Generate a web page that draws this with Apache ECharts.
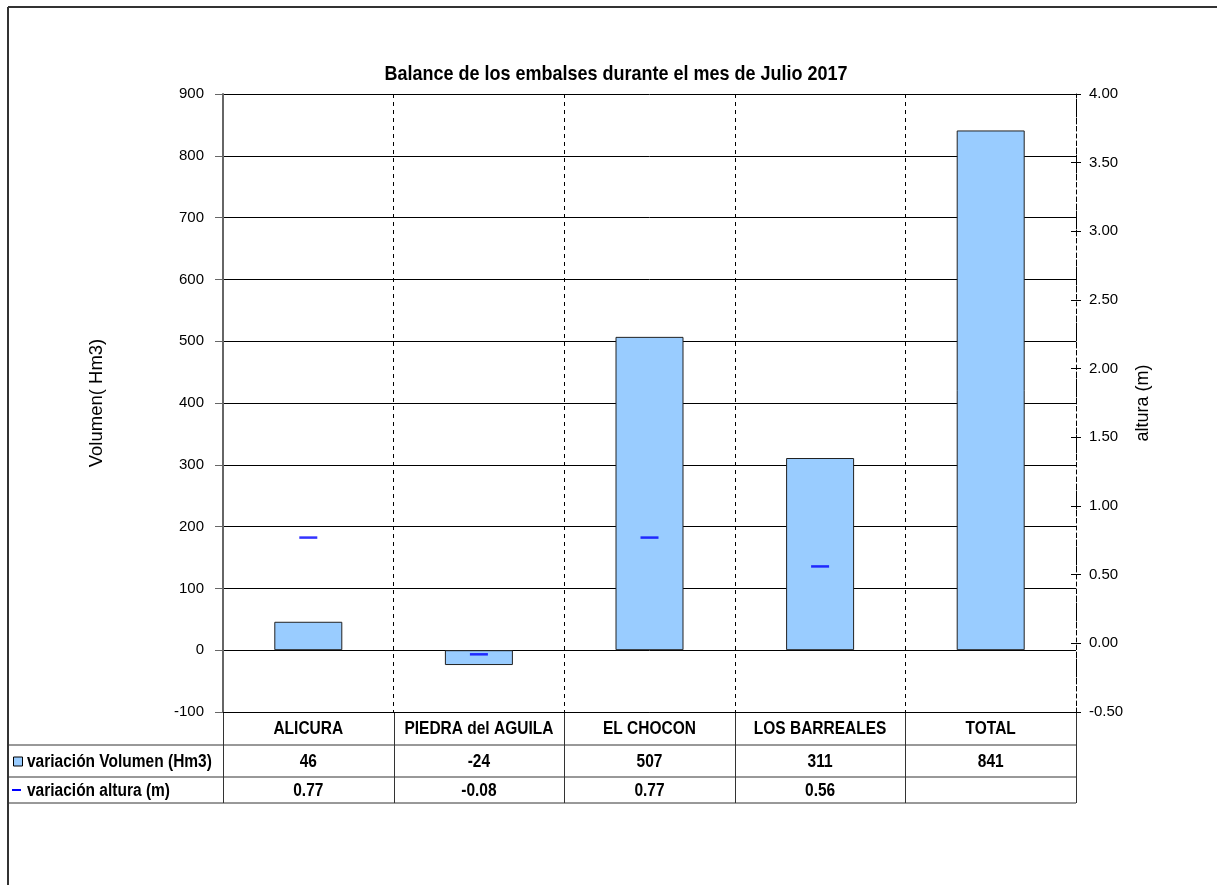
<!DOCTYPE html>
<html>
<head>
<meta charset="utf-8">
<script src="https://cdn.jsdelivr.net/npm/echarts@6/dist/echarts.min.js"></script>
<style>
  html, body { margin: 0; padding: 0; background: #fff; }
  #chart { width: 1217px; height: 885px; }
</style>
</head>
<body>
<div id="chart"></div>
<script>
// Reservoir balance, July 2017
const categories = ['ALICURA', 'PIEDRA del AGUILA', 'EL CHOCON', 'LOS BARREALES', 'TOTAL'];
const volumen = [46, -24, 507, 311, 841];          // variación Volumen (Hm3)
const altura = [0.77, -0.08, 0.77, 0.56, null];    // variación altura (m)
const volumenLabel = 'variación Volumen (Hm3)';
const alturaLabel = 'variación altura (m)';

const FONT = '"Liberation Sans", Arial, sans-serif';
const GRID = { left: 223, right: 1076, top: 94, bottom: 712 };
const W = 1217, H = 885;
const TALL = 1.15;   // text is drawn slightly elongated vertically

const chart = echarts.init(document.getElementById('chart'), null, { renderer: 'canvas' });

// ---- data table under the plot ----
function buildTable() {
  const n = categories.length;
  const cw = (GRID.right - GRID.left) / n;
  const tableLeft = 8;
  const rows = [GRID.bottom, 745, 777, 803];
  const lineStyle = { stroke: '#333', lineWidth: 1 };
  const els = [];
  // horizontal rules
  for (let r = 1; r < rows.length; r++) {
    els.push({ type: 'line', shape: { x1: tableLeft, y1: rows[r], x2: GRID.right, y2: rows[r] }, style: lineStyle, silent: true });
  }
  // vertical rules
  for (let i = 0; i <= n; i++) {
    const x = Math.round(GRID.left + i * cw) + 0.5;
    els.push({ type: 'line', shape: { x1: x, y1: rows[0], x2: x, y2: rows[3] }, style: lineStyle, silent: true });
  }
  const cellText = (x, y, t, align) => ({
    type: 'text', x, y, scaleY: TALL, silent: true,
    style: { text: t, font: 'bold 15.5px ' + FONT, fill: '#000', align: align || 'center', verticalAlign: 'middle' }
  });
  const mid = r => (rows[r] + rows[r + 1]) / 2 + 1;
  categories.forEach((c, i) => {
    const cx = GRID.left + (i + 0.5) * cw;
    els.push(cellText(cx, mid(0), c));
    els.push(cellText(cx, mid(1), String(volumen[i])));
    els.push(cellText(cx, mid(2), altura[i] == null ? '' : altura[i].toFixed(2)));
  });
  // legend keys in the first column
  els.push({ type: 'rect', shape: { x: 13.5, y: mid(1) - 5, width: 9, height: 9 },
    style: { fill: '#99ccff', stroke: '#000', lineWidth: 1 }, silent: true });
  els.push(cellText(27, mid(1), volumenLabel, 'left'));
  els.push({ type: 'line', shape: { x1: 12, y1: mid(2) - 1, x2: 21, y2: mid(2) - 1 },
    style: { stroke: '#0000ff', lineWidth: 2 }, silent: true });
  els.push(cellText(27, mid(2), alturaLabel, 'left'));
  // title
  els.push({ type: 'text', x: 616, y: 74, scaleY: TALL, silent: true,
    style: { text: 'Balance de los embalses durante el mes de Julio 2017', font: 'bold 18px ' + FONT,
      fill: '#000', align: 'center', verticalAlign: 'middle' } });
  // outer frame
  els.push({ type: 'line', shape: { x1: 8, y1: 7, x2: W, y2: 7 }, style: { stroke: '#333', lineWidth: 2 }, silent: true });
  els.push({ type: 'line', shape: { x1: 8, y1: 7, x2: 8, y2: H }, style: { stroke: '#333', lineWidth: 2 }, silent: true });
  return els;
}

const axisLabelFont = { fontFamily: FONT, fontSize: 15, color: '#000' };

chart.setOption({
  animation: false,
  backgroundColor: '#fff',
  grid: { left: GRID.left, right: W - GRID.right, top: GRID.top, bottom: H - GRID.bottom, containLabel: false },
  xAxis: {
    type: 'category',
    data: categories,
    boundaryGap: true,
    axisLine: { onZero: false, lineStyle: { color: '#000', width: 1 } },
    axisTick: { show: false },
    axisLabel: { show: false },
    splitLine: { show: true, interval: 0, lineStyle: { color: '#000', type: [4, 4], width: 1 } }
  },
  yAxis: [
    {
      type: 'value', position: 'left',
      min: -100, max: 900, interval: 100,
      name: 'Volumen( Hm3)', nameLocation: 'middle', nameRotate: 90, nameGap: 117,
      nameTextStyle: { fontFamily: FONT, fontSize: 18.5, color: '#000' },
      axisLine: { show: true, lineStyle: { color: '#666', width: 2 } },
      axisTick: { show: true, length: 8, lineStyle: { color: '#666', width: 1 } },
      axisLabel: Object.assign({ margin: 19 }, axisLabelFont),
      splitLine: { show: true, lineStyle: { color: '#000', width: 1 } }
    },
    {
      type: 'value', position: 'right',
      min: -0.5, max: 4, interval: 0.5,
      name: 'altura (m)', nameLocation: 'middle', nameRotate: 90, nameGap: 58,
      nameTextStyle: { fontFamily: FONT, fontSize: 18, color: '#000' },
      axisLine: { show: true, lineStyle: { color: '#000', width: 1, type: [4, 3] } },
      axisTick: { show: true, length: 5, lineStyle: { color: '#000', width: 1 } },
      axisLabel: Object.assign({ margin: 13, formatter: v => v.toFixed(2) }, axisLabelFont),
      splitLine: { show: false }
    },
    {
      // inner half of the crossing ticks on the right axis
      type: 'value', position: 'right',
      min: -0.5, max: 4, interval: 0.5,
      axisLine: { show: false },
      axisTick: { show: true, inside: true, length: 5, lineStyle: { color: '#000', width: 1 } },
      axisLabel: { show: false },
      splitLine: { show: false }
    }
  ],
  series: [
    {
      name: volumenLabel,
      type: 'bar',
      data: volumen,
      barWidth: 68,
      itemStyle: { color: '#99ccff', borderColor: '#222', borderWidth: 1 },
      z: 2
    },
    {
      name: alturaLabel,
      type: 'scatter',
      yAxisIndex: 1,
      data: altura,
      symbol: 'rect',
      symbolSize: [18, 2.5],
      itemStyle: { color: '#0000ff' },
      z: 5
    }
  ],
  graphic: buildTable()
});
</script>
</body>
</html>
